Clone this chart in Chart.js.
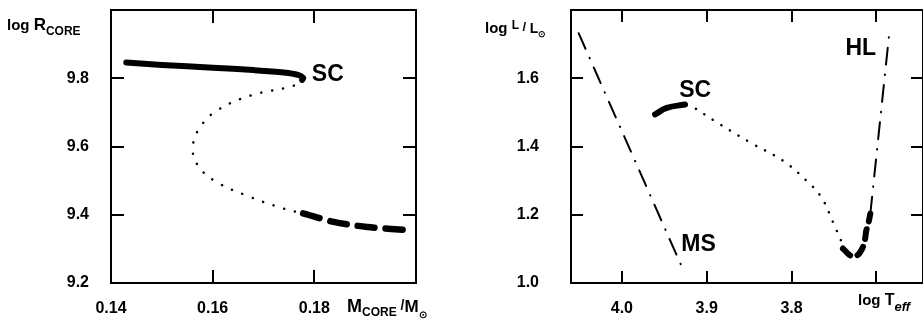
<!DOCTYPE html>
<html>
<head>
<meta charset="utf-8">
<script src="https://cdn.jsdelivr.net/npm/chart.js@4"></script>
<style>
html, body { margin: 0; padding: 0; background: #fff; }
#wrap { position: relative; width: 923px; height: 322px; overflow: hidden; }
#core { position: absolute; left: 0; top: 0; }
#hrd { position: absolute; left: 460px; top: 0; }
</style>
</head>
<body>
<div id="wrap">
  <canvas id="core" width="460" height="322"></canvas>
  <canvas id="hrd" width="463" height="322"></canvas>
</div>
<script>
// left panel: log R_core against core mass
var coreMassLabels = [0.14, 0.16, 0.18];
var coreRadLabels = [9.2, 9.4, 9.6, 9.8];
var coreMassMarks = [0.16, 0.18];
var coreRadMarks = [9.4, 9.6, 9.8];

var coreStable = [[0.1430, 9.846], [0.1500, 9.839], [0.1600, 9.831], [0.1680, 9.824],
                  [0.1740, 9.817], [0.1768, 9.810], [0.1778, 9.801], [0.1776, 9.795]];
var coreUnstable = [[0.1778, 9.796], [0.1759, 9.778], [0.1674, 9.749], [0.1608, 9.705],
                    [0.1575, 9.656], [0.1561, 9.600], [0.1569, 9.549], [0.1602, 9.501],
                    [0.1674, 9.452], [0.1740, 9.418], [0.1778, 9.404]];
var coreOuter = [[0.1778, 9.404], [0.1838, 9.379], [0.1904, 9.364], [0.1984, 9.355]];

// right panel: HR diagram
var teffLabels = [4.0, 3.9, 3.8];
var lumLabels = [1.0, 1.2, 1.4, 1.6];
var teffMarks = [4.0, 3.9, 3.8, 3.7];
var lumMarks = [1.2, 1.4, 1.6];

var mainSeq = [[4.051, 1.732], [3.928, 1.040]];
var hayashi = [[3.7071, 1.203], [3.6844, 1.741]];
var trackSC = [[3.9609, 1.494], [3.9471, 1.513], [3.9256, 1.523]];
var trackJump = [[3.9236, 1.523], [3.9197, 1.521], [3.8844, 1.465], [3.8452, 1.407],
                 [3.8099, 1.358], [3.7825, 1.300], [3.7648, 1.251], [3.7511, 1.178],
                 [3.7393, 1.111], [3.7374, 1.101]];
var trackRed = [[3.7394, 1.101], [3.7330, 1.085], [3.7276, 1.077], [3.7220, 1.082],
                [3.7177, 1.096], [3.7140, 1.120], [3.7118, 1.154], [3.7099, 1.169], [3.7071, 1.203]];

var FONT = 'Liberation Sans';

function pts(a) {
  return a.map(function (p) { return { x: p[0], y: p[1] }; });
}

function curve(data, width, dash, tension) {
  return {
    data: pts(data),
    showLine: true,
    borderColor: '#000',
    borderWidth: width,
    borderDash: dash,
    borderCapStyle: 'round',
    borderJoinStyle: 'round',
    pointRadius: 0,
    tension: tension,
    fill: false
  };
}

// inner tick marks and the frame
var frame = {
  id: 'frame',
  afterDatasetsDraw: function (chart, args, o) {
    var ctx = chart.ctx, a = chart.chartArea, x = chart.scales.x, y = chart.scales.y;
    ctx.save();
    ctx.strokeStyle = '#000';
    ctx.lineWidth = 2;
    ctx.beginPath();
    o.xMarks.forEach(function (v) {
      var px = Math.round(x.getPixelForValue(v));
      ctx.moveTo(px, a.top); ctx.lineTo(px, a.top + o.len);
      ctx.moveTo(px, a.bottom); ctx.lineTo(px, a.bottom - o.len);
    });
    o.yMarks.forEach(function (v) {
      var py = Math.round(y.getPixelForValue(v));
      ctx.moveTo(a.left, py); ctx.lineTo(a.left + o.len, py);
      ctx.moveTo(a.right, py); ctx.lineTo(a.right - o.len, py);
    });
    ctx.stroke();
    ctx.strokeRect(a.left, a.top, a.right - a.left, a.bottom - a.top);
    ctx.restore();
  }
};

// labels: runs of text with size/offset changes
var texts = {
  id: 'texts',
  afterDraw: function (chart, args, o) {
    var ctx = chart.ctx, x = chart.scales.x, y = chart.scales.y;
    ctx.save();
    ctx.fillStyle = '#000';
    ctx.textBaseline = 'alphabetic';
    ctx.textAlign = 'left';
    o.items.forEach(function (t) {
      var px = t.data ? x.getPixelForValue(t.x) : t.x;
      var py = t.data ? y.getPixelForValue(t.y) : t.y;
      t.runs.forEach(function (r) {
        ctx.font = r[1] + ' ' + FONT;
        ctx.fillText(r[0], px, py + (r[2] || 0));
        px += ctx.measureText(r[0]).width;
      });
    });
    ctx.restore();
  }
};

function scales(o) {
  return {
    x: {
      type: 'linear', min: o.xmin, max: o.xmax, reverse: !!o.reverse,
      grid: { display: false, drawTicks: false },
      border: { display: false },
      afterBuildTicks: function (s) { s.ticks = o.xLabels.map(function (v) { return { value: v }; }); },
      afterFit: function (s) { s.height = 39; s.paddingLeft = 0; s.paddingRight = 0; },
      ticks: {
        color: '#000', padding: 16, maxRotation: 0, autoSkip: false,
        font: { family: FONT, size: 16, weight: 'bold' },
        callback: function (v) { return v.toFixed(o.xDec); }
      }
    },
    y: {
      type: 'linear', min: o.ymin, max: o.ymax,
      grid: { display: false, drawTicks: false },
      border: { display: false },
      afterBuildTicks: function (s) { s.ticks = o.yLabels.map(function (v) { return { value: v }; }); },
      afterFit: function (s) { s.width = 111; s.paddingTop = 0; s.paddingBottom = 0; },
      ticks: {
        color: '#000', padding: o.yPad, autoSkip: false,
        font: { family: FONT, size: 16, weight: 'bold' },
        callback: function (v) { return v.toFixed(1); }
      }
    }
  };
}

new Chart(document.getElementById('core'), {
  type: 'scatter',
  data: {
    datasets: [
      curve(coreStable, 6, [], 0.3),
      curve(coreUnstable, 2.5, [0.1, 11], 0.4),
      curve(coreOuter, 6.5, [17, 11], 0.3)
    ]
  },
  options: {
    responsive: false,
    animation: false,
    layout: { padding: { left: 0, top: 10, right: 44, bottom: 0 } },
    scales: scales({ xmin: 0.14, xmax: 0.20, xLabels: coreMassLabels, xDec: 2,
                     ymin: 9.2, ymax: 10.0, yLabels: coreRadLabels, yPad: 22 }),
    plugins: {
      legend: { display: false },
      tooltip: { enabled: false },
      frame: { xMarks: coreMassMarks, yMarks: coreRadMarks, len: 13 },
      texts: {
        items: [
          { data: true, x: 0.1795, y: 9.792, runs: [['SC', 'bold 23px']] },
          { x: 7, y: 30, runs: [['log ', 'bold 15px'], ['R', 'bold 17px'], ['CORE', 'bold 12px', 5]] },
          { x: 347, y: 312, runs: [['M', 'bold 18px'], ['CORE', 'bold 12px', 4], [' /', 'bold 14px', -2],
                                  ['M', 'bold 17px'], ['\u2299', 'bold 10px', 6]] }
        ]
      }
    }
  },
  plugins: [frame, texts]
});

new Chart(document.getElementById('hrd'), {
  type: 'scatter',
  data: {
    datasets: [
      curve(mainSeq, 2, [17, 10, 0.5, 10], 0),
      curve(hayashi, 2, [17, 10, 0.5, 10], 0),
      curve(trackSC, 6, [], 0.5),
      curve(trackJump, 2.5, [0.1, 10], 0.4),
      curve(trackRed, 6, [10, 8], 0.4)
    ]
  },
  options: {
    responsive: false,
    animation: false,
    layout: { padding: { left: 0, top: 10, right: 0, bottom: 0 } },
    scales: scales({ xmin: 3.645, xmax: 4.06, reverse: true, xLabels: teffLabels, xDec: 1,
                     ymin: 1.0, ymax: 1.8, yLabels: lumLabels, yPad: 32 }),
    plugins: {
      legend: { display: false },
      tooltip: { enabled: false },
      frame: { xMarks: teffMarks, yMarks: lumMarks, len: 12 },
      texts: {
        items: [
          { data: true, x: 3.9325, y: 1.545, runs: [['SC', 'bold 23px']] },
          { data: true, x: 3.9300, y: 1.095, runs: [['MS', 'bold 23px']] },
          { data: true, x: 3.7365, y: 1.668, runs: [['HL', 'bold 23px']] },
          { x: 25, y: 33, runs: [['log ', 'bold 15px'], ['L', 'bold 12px', -4], [' / ', 'bold 13px', -2],
                                 ['L', 'bold 14px'], ['\u2299', 'bold 9px', 4]] },
          { x: 398, y: 305, runs: [['log ', 'bold 15px'], ['T', 'bold 16px'], ['eff', 'bold italic 13px', 6]] }
        ]
      }
    }
  },
  plugins: [frame, texts]
});
</script>
</body>
</html>
